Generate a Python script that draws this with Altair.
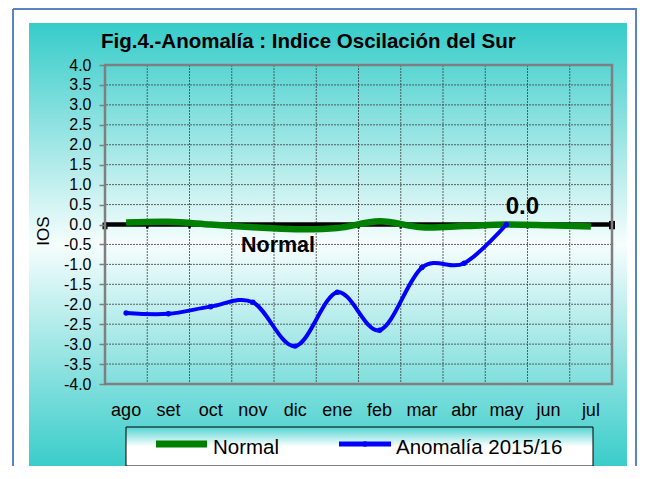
import altair as alt
import pandas as pd

# ---------------- data ----------------
months = ["ago", "set", "oct", "nov", "dic", "ene", "feb", "mar", "abr", "may", "jun", "jul"]
normal_vals = [0.05, 0.07, 0.0, -0.07, -0.12, -0.09, 0.08, -0.07, -0.04, 0.0, -0.02, -0.05]
anom_months = ["ago", "set", "oct", "nov", "dic", "ene", "feb", "mar", "abr", "may"]
anom_vals = [-2.22, -2.24, -2.06, -1.95, -3.05, -1.70, -2.65, -1.08, -0.97, 0.0]
y_ticks = [-4.0, -3.5, -3.0, -2.5, -2.0, -1.5, -1.0, -0.5, 0.0, 0.5, 1.0, 1.5, 2.0, 2.5, 3.0, 3.5, 4.0]

title_text = "Fig.4.-Anomalía : Indice Oscilación del Sur"
y_title = "IOS"
normal_label = "Normal"
legend_labels = ["Normal", "Anomalía 2015/16"]

W, H = 507, 319
FONT = "Liberation Sans"

df_normal = pd.DataFrame({"month": months, "value": normal_vals})
df_anom = pd.DataFrame({"month": anom_months, "value": anom_vals})
df_months = pd.DataFrame({"month": months})
df_yt = pd.DataFrame({"value": y_ticks})
df_last = df_anom.tail(1)
one = pd.DataFrame({"k": [0]})

xscale = alt.Scale(type="band", domain=months, paddingInner=0, paddingOuter=0)
yscale = alt.Scale(domain=[-4, 4], nice=False, zero=False)

xaxis = alt.Axis(labelFontSize=18, labelColor="black", labelFont=FONT, labelBaseline="alphabetic",
                 labelPadding=31, ticks=False, tickSize=0, domain=False, grid=False, zindex=1,
                 labelAngle=0, title=None)
yaxis = alt.Axis(values=y_ticks, labelExpr="replace(format(datum.value, '.1f'), '\u2212', '-')",
                 grid=False, domain=False, tickColor="#7f7f7f", tickSize=6, tickWidth=1.5,
                 labelFontSize=16, labelColor="black", labelFont=FONT, labelPadding=8,
                 zindex=1, title=None)


def X(bp=0.5):
    return alt.X("month:N", scale=xscale, bandPosition=bp, title=None, axis=xaxis)


def Y(field="value:Q"):
    return alt.Y(field, scale=yscale, title=None, axis=yaxis)


def Yd(v):
    return alt.Y(datum=v, scale=yscale, title=None, axis=yaxis)


bg_grad = alt.LinearGradient(
    gradient="linear", x1=0, y1=0, x2=0, y2=1,
    stops=[alt.GradientStop(color="#36ccc9", offset=0),
           alt.GradientStop(color="#f6fdfd", offset=0.5),
           alt.GradientStop(color="#3acdca", offset=1)])

legend_grad = alt.LinearGradient(
    gradient="linear", x1=0, y1=0, x2=0, y2=1,
    stops=[alt.GradientStop(color="#52d4d1", offset=0),
           alt.GradientStop(color="#ffffff", offset=0.5),
           alt.GradientStop(color="#ffffff", offset=1)])

# ---------------- decoration ----------------
background = alt.Chart(one).mark_rect(color=bg_grad).encode(
    x=alt.value(-76), x2=alt.value(522), y=alt.value(-42), y2=alt.value(401))

frame_col = "#5a84c6"
frame_left = alt.Chart(one).mark_rule(color=frame_col, strokeWidth=2).encode(
    x=alt.value(-92), y=alt.value(-56), y2=alt.value(401))
frame_top = alt.Chart(one).mark_rule(color=frame_col, strokeWidth=2).encode(
    x=alt.value(-92), x2=alt.value(532), y=alt.value(-56))
frame_right = alt.Chart(one).mark_rule(color=frame_col, strokeWidth=2).encode(
    x=alt.value(531), y=alt.value(-56), y2=alt.value(401))

# grid
ygrid = alt.Chart(df_yt).mark_rule(color="#3c3c3c", strokeWidth=1, strokeDash=[2, 1], opacity=0.8).encode(
    y=Y())
xgrid = alt.Chart(df_months).mark_rule(color="#3c3c3c", strokeWidth=1, strokeDash=[2, 1], opacity=0.8).encode(
    x=X(0))

# zero line and its ticks
zero_line = alt.Chart(one).mark_rule(color="black", strokeWidth=4.5).encode(y=Yd(0))
zero_ticks = alt.Chart(df_months).mark_rule(color="black", strokeWidth=2.5).encode(
    x=X(0), y=Yd(0), y2=alt.Y2(datum=-0.1))
zero_end = alt.Chart(pd.DataFrame({"month": ["jul"]})).mark_rule(color="black", strokeWidth=6).encode(
    x=X(1), y=Yd(0.09), y2=alt.Y2(datum=-0.12))
zero_start = alt.Chart(pd.DataFrame({"month": ["ago"]})).mark_rule(color="black", strokeWidth=5).encode(
    x=X(0), y=Yd(0.05), y2=alt.Y2(datum=-0.12))

# series
normal_line = alt.Chart(df_normal).mark_line(color="#008000", strokeWidth=6.5, interpolate="cardinal").encode(
    x=X(), y=Y())
anom_line = alt.Chart(df_anom).mark_line(color="#0000ff", strokeWidth=4, interpolate="cardinal").encode(
    x=X(), y=Y())
anom_pts = alt.Chart(df_anom).mark_point(color="#0000ff", filled=True, size=30, opacity=1, shape="circle").encode(
    x=X(), y=Y())

border = alt.Chart(one).mark_rect(fill="transparent", stroke="#7f7f7f", strokeWidth=2.5).encode(
    x=alt.value(0), x2=alt.value(W), y=alt.value(0), y2=alt.value(H))

# annotations
last_label = alt.Chart(df_last).mark_text(font=FONT, fontSize=24, fontWeight="bold", color="black",
                                          align="center", baseline="alphabetic", dx=16, dy=-11).encode(
    x=X(), y=Y(), text=alt.Text("value:Q", format=".1f"))
normal_txt = alt.Chart(one).mark_text(font=FONT, fontSize=21.5, fontWeight="bold", color="black",
                                      align="center", baseline="alphabetic").encode(
    x=alt.value(173), y=alt.value(187), text=alt.value(normal_label))

title = alt.Chart(one).mark_text(font=FONT, fontSize=20.5, fontWeight="bold", color="black",
                                 align="left", baseline="alphabetic").encode(
    x=alt.value(-4), y=alt.value(-17), text=alt.value(title_text))
ytitle = alt.Chart(one).mark_text(font=FONT, fontSize=17, color="black", angle=270,
                                  align="center", baseline="middle").encode(
    x=alt.value(-61), y=alt.value(166), text=alt.value(y_title))

# legend
leg_box = alt.Chart(one).mark_rect(color=legend_grad, stroke="black", strokeWidth=1).encode(
    x=alt.value(21), x2=alt.value(488), y=alt.value(362), y2=alt.value(401))
leg_green = alt.Chart(one).mark_rule(color="#008000", strokeWidth=7).encode(
    x=alt.value(51), x2=alt.value(102), y=alt.value(379))
leg_blue = alt.Chart(one).mark_rule(color="#0000ff", strokeWidth=5).encode(
    x=alt.value(234), x2=alt.value(286), y=alt.value(379))
leg_dot = alt.Chart(one).mark_point(color="#0000ff", filled=True, size=30, opacity=1).encode(
    x=alt.value(260), y=alt.value(379))
leg_t1 = alt.Chart(one).mark_text(font=FONT, fontSize=20.5, color="black", align="left",
                                  baseline="alphabetic").encode(
    x=alt.value(108), y=alt.value(389), text=alt.value(legend_labels[0]))
leg_t2 = alt.Chart(one).mark_text(font=FONT, fontSize=20.5, color="black", align="left",
                                  baseline="alphabetic").encode(
    x=alt.value(291), y=alt.value(389), text=alt.value(legend_labels[1]))

chart = alt.layer(
    background, frame_left, frame_top, frame_right,
    ygrid, xgrid, zero_line, zero_ticks, zero_end, zero_start,
    normal_line, anom_line, anom_pts, border,
    last_label, normal_txt, title, ytitle,
    leg_box, leg_green, leg_blue, leg_dot, leg_t1, leg_t2,
).properties(
    width=W, height=H,
    autosize=alt.AutoSizeParams(type="none"),
    padding={"left": 97, "top": 57, "right": 26, "bottom": 82},
).configure(font=FONT, background="white").configure_view(stroke=None)

chart.save("out.html", embed_options={"renderer": "svg", "actions": False})
